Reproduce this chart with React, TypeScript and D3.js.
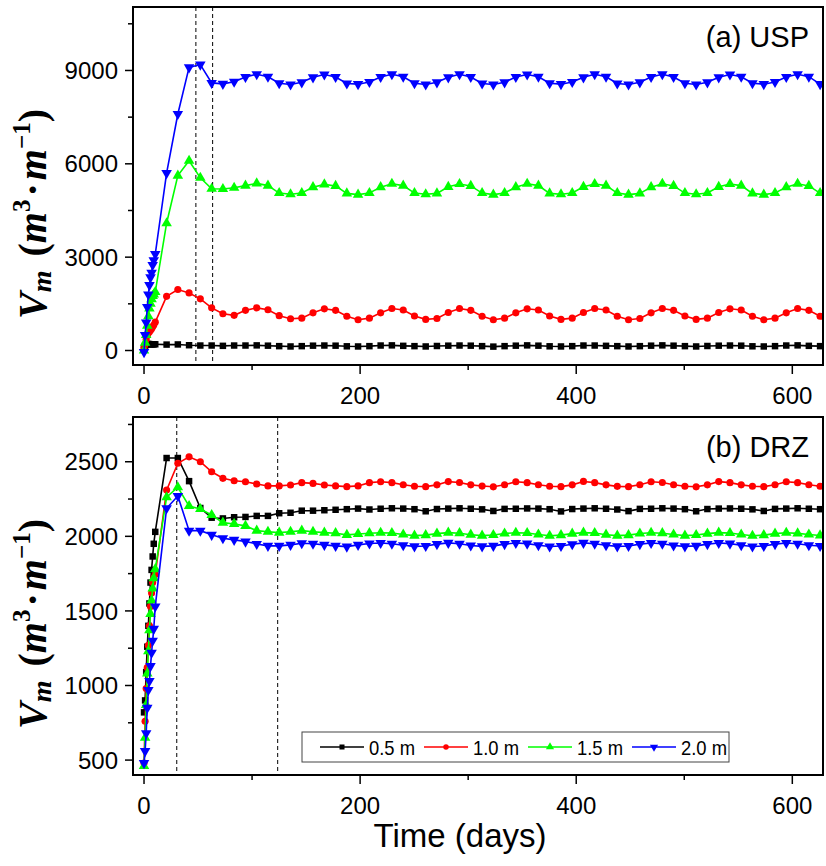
import React from 'react';
import * as d3 from 'd3';

// ---- data ----
const TIME = [0, 1, 2, 3, 4, 5, 6, 7, 8, 9, 10.4, 20.9, 31.3, 41.7, 52.1, 62.6, 73.0, 83.4, 93.9, 104.3, 114.7, 125.1, 135.6, 146.0, 156.4, 166.9, 177.3, 187.7, 198.1, 208.6, 219.0, 229.4, 239.9, 250.3, 260.7, 271.1, 281.6, 292.0, 302.4, 312.9, 323.3, 333.7, 344.1, 354.6, 365.0, 375.4, 385.9, 396.3, 406.7, 417.1, 427.6, 438.0, 448.4, 458.9, 469.3, 479.7, 490.1, 500.6, 511.0, 521.4, 531.9, 542.3, 552.7, 563.1, 573.6, 584.0, 594.4, 604.9, 615.3, 625.7];

const USP_05 = [30, 150, 200, 210, 210, 205, 200, 200, 200, 200, 200,
  190, 195, 170, 160, 160, 150, 160, 160,
  165, 155, 140, 130, 140, 155, 160, 155, 135, 130, 140, 160, 165, 150, 140, 130, 145, 155,
  160, 155, 140, 125, 140, 155, 165, 155, 135, 130, 140, 160, 160, 150, 140, 130, 140, 155,
  165, 155, 140, 130, 145, 155, 160, 155, 135, 130, 140, 160, 165, 150, 140];
const USP_10 = [100, 200, 350, 480, 560, 600, 650, 700, 760, 820, 910,
  1740, 1960, 1850, 1660, 1370, 1180, 1130, 1290,
  1370, 1310, 1120, 1020, 1040, 1210, 1340, 1290, 1100, 990, 1040, 1210, 1350, 1300, 1110, 1000, 1030, 1220,
  1350, 1290, 1100, 990, 1040, 1210, 1340, 1300, 1110, 1000, 1040, 1220, 1350, 1300, 1100, 990, 1030, 1210,
  1350, 1290, 1110, 1000, 1040, 1220, 1340, 1300, 1100, 990, 1040, 1210, 1350, 1290, 1100];
const USP_15 = [0, 250, 500, 800, 1100, 1350, 1500, 1650, 1750, 1800, 1880,
  4090, 5620, 6100, 5550, 5200, 5190, 5230, 5300,
  5370, 5300, 5060, 5020, 5060, 5250, 5340, 5290, 5050, 5010, 5060, 5250, 5360, 5300, 5060, 5020, 5050, 5260,
  5350, 5290, 5060, 5010, 5060, 5250, 5360, 5300, 5050, 5020, 5060, 5260, 5350, 5300, 5060, 5010, 5050, 5250,
  5360, 5290, 5060, 5020, 5060, 5260, 5350, 5300, 5050, 5010, 5060, 5250, 5360, 5290, 5060];
const USP_20 = [-50, 500, 900, 1400, 1800, 2100, 2350, 2500, 2750, 2900, 3100,
  5700, 7600, 9100, 9190, 8600, 8570, 8640, 8790,
  8880, 8800, 8590, 8550, 8620, 8780, 8870, 8790, 8580, 8560, 8630, 8790, 8880, 8800, 8590, 8550, 8620, 8780,
  8880, 8790, 8580, 8550, 8620, 8790, 8870, 8800, 8590, 8560, 8630, 8780, 8880, 8800, 8580, 8550, 8620, 8790,
  8880, 8790, 8590, 8550, 8620, 8780, 8870, 8800, 8590, 8560, 8630, 8790, 8880, 8800, 8560];

const DRZ_05 = [820, 900, 1090, 1260, 1400, 1550, 1690, 1775, 1865, 1950, 2030,
  2525, 2525, 2370, 2190, 2125, 2120, 2128, 2130, 2137, 2137, 2155, 2158, 2172, 2172, 2175, 2178, 2182, 2186, 2180,
  2185, 2188, 2186, 2182, 2168, 2183, 2186, 2188, 2185, 2181, 2170, 2184, 2185, 2187, 2186, 2182, 2167, 2183,
  2186, 2188, 2185, 2180, 2169, 2184, 2185, 2188, 2186, 2182, 2168, 2183, 2186, 2187, 2185, 2181, 2170, 2184,
  2186, 2188, 2185, 2182];
const DRZ_10 = [480, 760, 980, 1120, 1270, 1400, 1530, 1620, 1690, 1720, 1745,
  2310, 2490, 2533, 2500, 2433, 2389, 2373, 2366, 2351, 2338, 2338, 2344, 2360, 2355, 2344, 2338, 2333, 2338, 2360,
  2366, 2360, 2346, 2336, 2333, 2345, 2367, 2361, 2345, 2337, 2332, 2346, 2366, 2360, 2346, 2336, 2333, 2345,
  2368, 2360, 2345, 2335, 2333, 2346, 2366, 2361, 2346, 2336, 2332, 2345, 2367, 2360, 2345, 2336, 2333, 2346,
  2366, 2360, 2346, 2336];
const DRZ_15 = [460, 650, 870, 1080, 1230, 1370, 1480, 1570, 1650, 1720, 1780,
  2262, 2329, 2203, 2183, 2143, 2092, 2083, 2070, 2038, 2031, 2025, 2031, 2038, 2031, 2025, 2021, 2010, 2016, 2021,
  2024, 2022, 2012, 2005, 2008, 2018, 2025, 2021, 2011, 2005, 2009, 2019, 2024, 2022, 2012, 2004, 2008, 2018,
  2025, 2022, 2011, 2005, 2008, 2019, 2024, 2021, 2012, 2005, 2009, 2018, 2025, 2022, 2012, 2004, 2008, 2018,
  2024, 2020, 2012, 2006];
const DRZ_20 = [480, 560, 680, 850, 970, 1030, 1130, 1220, 1300, 1380, 1530,
  2188, 2270, 2038, 2038, 2010, 1987, 1976, 1965, 1949, 1936, 1936, 1943, 1954, 1950, 1943, 1936, 1931, 1943, 1952,
  1955, 1950, 1940, 1933, 1935, 1948, 1956, 1950, 1939, 1933, 1936, 1948, 1955, 1951, 1940, 1932, 1935, 1947,
  1956, 1950, 1940, 1933, 1935, 1948, 1955, 1950, 1939, 1933, 1936, 1948, 1955, 1951, 1940, 1932, 1935, 1948,
  1955, 1950, 1940, 1935];

const LEGEND = ['0.5 m', '1.0 m', '1.5 m', '2.0 m'];
const COLORS = ['#000000', '#ff0000', '#00ff00', '#0000ff'];
const X_TICKS = [0, 200, 400, 600];
const X_MINOR = [100, 300, 500];
const USP_Y_TICKS = [0, 3000, 6000, 9000];
const USP_Y_MINOR = [1500, 4500, 7500, 10500];
const DRZ_Y_TICKS = [500, 1000, 1500, 2000, 2500];
const DRZ_Y_MINOR = [750, 1250, 1750, 2250, 2750];
const USP_DASH = [48, 63.5];
const DRZ_DASH = [30.3, 123.7];

// ---- layout ----
const W = 826, H = 866;
const L = 133, R = 823;
const SANS = "'Liberation Sans', Arial, sans-serif";
const SERIF = "'Liberation Serif', 'Times New Roman', serif";

const x = d3.scaleLinear().domain([-10.2, 628.4]).range([L, R]);

const symbolTypes = [d3.symbolSquare, d3.symbolCircle, d3.symbolTriangle, d3.symbolTriangle];
const symbolSizes = [42, 40, 48, 48];
const symbolRot = [0, 0, 0, 180];

function Marker({ i, cx, cy, scale = 1 }: { i: number; cx: number; cy: number; scale?: number }) {
  const p = d3.symbol().type(symbolTypes[i]).size(symbolSizes[i] * scale)() as string;
  return <path d={p} transform={`translate(${cx},${cy}) rotate(${symbolRot[i]})`} fill={COLORS[i]} />;
}

function YLabel({ cx, cy }: { cx: number; cy: number }) {
  return (
    <text transform={`translate(${cx},${cy}) rotate(-90)`} textAnchor="middle" fontFamily={SERIF}
      fontWeight="bold" fontSize={40} fill="#000">
      <tspan fontStyle="italic">V</tspan>
      <tspan fontStyle="italic" fontSize={28} dy={5}>m</tspan>
      <tspan dx={14} dy={-5}>(</tspan>
      <tspan fontStyle="italic">m</tspan>
      <tspan fontSize={25} dy={-16}>3</tspan>
      <tspan dy={16} dx={3}>·</tspan>
      <tspan fontStyle="italic" dx={3}>m</tspan>
      <tspan fontSize={25} dy={-16}>−1</tspan>
      <tspan dy={16}>)</tspan>
    </text>
  );
}

type PanelProps = {
  top: number; bottom: number; yDomain: [number, number];
  series: number[][]; yTicks: number[]; yMinor: number[]; dash: number[];
  title: string; id: string;
};

function Panel({ top, bottom, yDomain, series, yTicks, yMinor, dash, title, id }: PanelProps) {
  const y = d3.scaleLinear().domain(yDomain).range([bottom, top]);
  const line = d3.line<[number, number]>().x(d => x(d[0])).y(d => y(d[1]));
  return (
    <g>
      <defs>
        <clipPath id={id}><rect x={L} y={top} width={R - L} height={bottom - top} /></clipPath>
      </defs>
      {/* dashed guides */}
      {dash.map((t, k) => (
        <line key={k} x1={x(t)} x2={x(t)} y1={top} y2={bottom} stroke="#000" strokeWidth={1} strokeDasharray="4,3" />
      ))}
      <g clipPath={`url(#${id})`}>
        {series.map((s, i) => {
          const pts = TIME.map((t, j) => [t, s[j]] as [number, number]);
          return (
            <g key={i}>
              <path d={line(pts) as string} fill="none" stroke={COLORS[i]} strokeWidth={1.6} />
              {pts.map((p, j) => <Marker key={j} i={i} cx={x(p[0])} cy={y(p[1])} />)}
            </g>
          );
        })}
      </g>
      {/* frame */}
      <rect x={L} y={top} width={R - L} height={bottom - top} fill="none" stroke="#000" strokeWidth={2} />
      {/* y ticks */}
      {yTicks.map(v => (
        <g key={v}>
          <line x1={L - 8} x2={L} y1={y(v)} y2={y(v)} stroke="#000" strokeWidth={1.5} />
          <text x={L - 15} y={y(v)} dy="0.36em" textAnchor="end" fontFamily={SANS} fontSize={24} fill="#000">{v}</text>
        </g>
      ))}
      {yMinor.map(v => (
        <line key={v} x1={L - 5} x2={L} y1={y(v)} y2={y(v)} stroke="#000" strokeWidth={1.5} />
      ))}
      {/* x ticks */}
      {X_TICKS.map(v => (
        <g key={v}>
          <line x1={x(v)} x2={x(v)} y1={bottom} y2={bottom + 9} stroke="#000" strokeWidth={1.5} />
          <text x={x(v)} y={bottom + 39} textAnchor="middle" fontFamily={SANS} fontSize={24} fill="#000">{v}</text>
        </g>
      ))}
      {X_MINOR.map(v => (
        <line key={v} x1={x(v)} x2={x(v)} y1={bottom} y2={bottom + 5} stroke="#000" strokeWidth={1.5} />
      ))}
      <text x={809} y={top + 40} textAnchor="end" fontFamily={SANS} fontSize={29} fill="#000">{title}</text>
      <YLabel cx={46} cy={(top + bottom) / 2 + 28} />
    </g>
  );
}

export default function App() {
  return (
    <svg width={W} height={H} style={{ position: 'absolute', left: 0, top: 0, background: '#fff' }}>
      <rect x={0} y={0} width={W} height={H} fill="#fff" />
      <Panel id="clipA" top={7} bottom={365} yDomain={[-466, 11040]} series={[USP_05, USP_10, USP_15, USP_20]}
        yTicks={USP_Y_TICKS} yMinor={USP_Y_MINOR} dash={USP_DASH} title="(a) USP" />
      <Panel id="clipB" top={417} bottom={775} yDomain={[400, 2800]} series={[DRZ_05, DRZ_10, DRZ_15, DRZ_20]}
        yTicks={DRZ_Y_TICKS} yMinor={DRZ_Y_MINOR} dash={DRZ_DASH} title="(b) DRZ" />
      {/* legend */}
      <g>
        <rect x={302} y={732} width={427} height={30} fill="#fff" stroke="#444" strokeWidth={1} />
        {LEGEND.map((lab, i) => {
          const x0 = 320 + i * 104;
          return (
            <g key={lab}>
              <line x1={x0} x2={x0 + 44} y1={747} y2={747} stroke={COLORS[i]} strokeWidth={1.6} />
              <Marker i={i} cx={x0 + 22} cy={747} scale={0.6} />
              <text x={x0 + 49} y={755} fontFamily={SANS} fontSize={21} textLength={46}
                lengthAdjust="spacingAndGlyphs" fill="#000">{lab}</text>
            </g>
          );
        })}
      </g>
      <text x={460} y={847} textAnchor="middle" fontFamily={SANS} fontSize={33} fill="#000">Time (days)</text>
    </svg>
  );
}
